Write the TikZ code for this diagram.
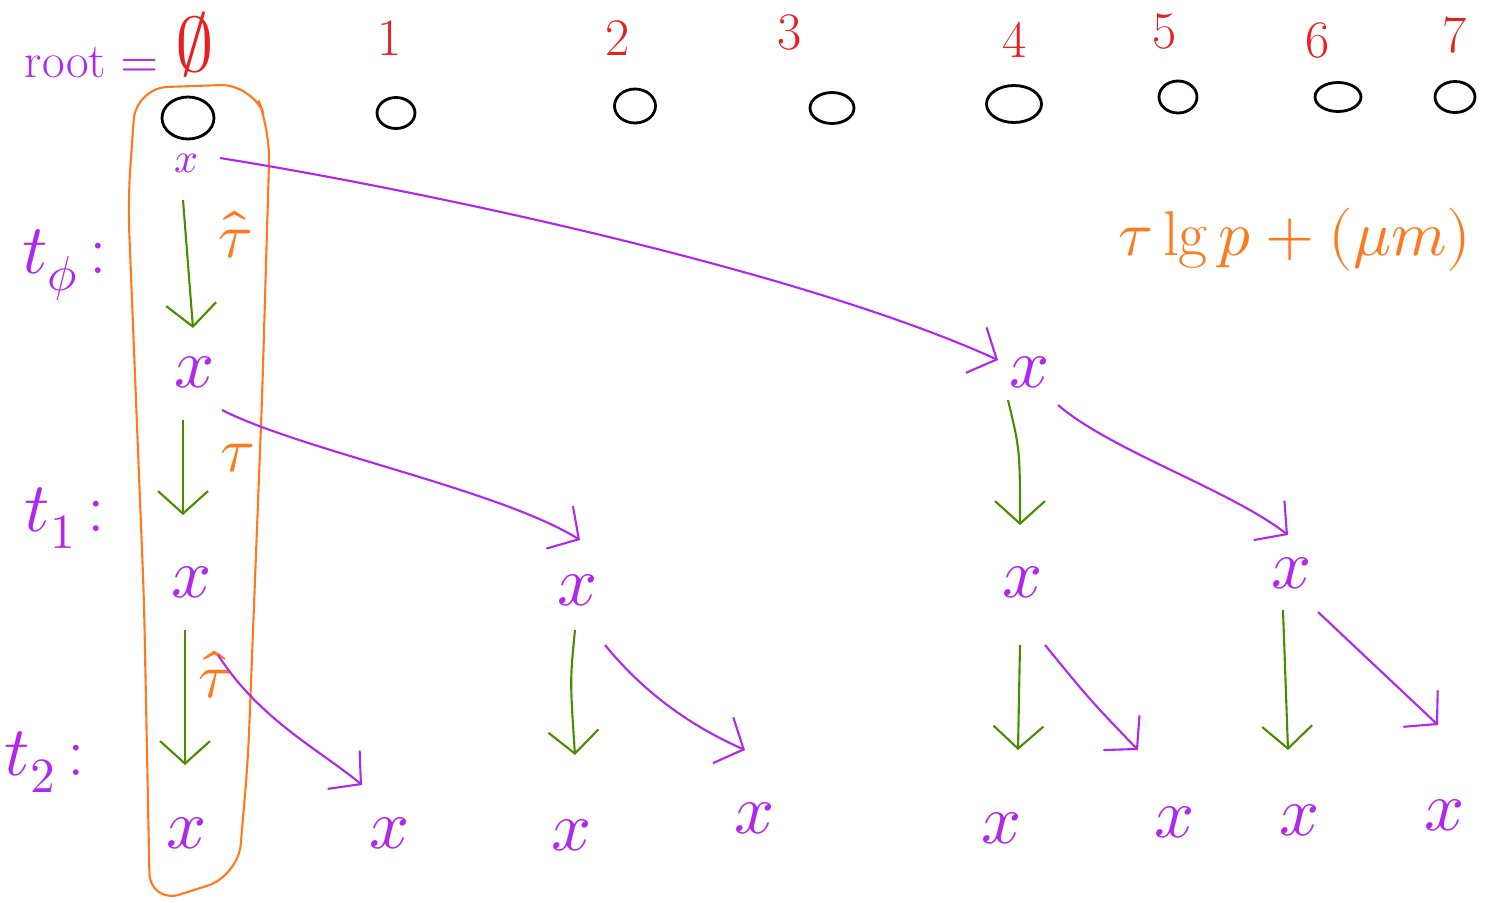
\documentclass[tikz,border=0pt]{standalone}
\usepackage{unicode-math}
\setmathfont{Latin Modern Math}
\usetikzlibrary{arrows.meta,shapes.geometric,calc}
\definecolor{pur}{RGB}{176,40,240}
\definecolor{grn}{RGB}{74,140,0}
\definecolor{org}{RGB}{255,122,30}
\definecolor{rd}{RGB}{232,32,32}
\tikzset{
  xnode/.style={text=pur,inner sep=0pt,font=\fontsize{40}{40}\selectfont},
  smallx/.style={text=pur,inner sep=0pt,font=\fontsize{24}{24}\selectfont},
  num/.style={text=rd,inner sep=0pt,font=\fontsize{30}{30}\selectfont},
  vert/.style={draw=black,line width=1.6pt,ellipse,inner sep=0pt},
  tlab/.style={text=pur,inner sep=0pt,font=\fontsize{40}{40}\selectfont},
  olab/.style={text=org,inner sep=0pt,font=\fontsize{36}{36}\selectfont},
  garr/.style={draw=grn,line width=1.2pt,-{Straight Barb[length=0.45cm,width=1cm]}},
  parr/.style={draw=pur,line width=1.2pt,-{Straight Barb[length=0.45cm,width=1cm]}},
  obox/.style={draw=org,line width=1.2pt,rounded corners=18pt},
}
\begin{document}
\begin{tikzpicture}[x=0.02cm,y=-0.02cm]
\useasboundingbox (0,0) rectangle (1489,903);
% column indices
\node[text=pur,inner sep=0pt,font=\fontsize{28}{28}\selectfont] (root) at (92,63) {root $=$};
\node[num,font=\fontsize{44}{44}\selectfont] (n0) at (195,45) {$\emptyset$};
\node[num] (n1) at (390,38) {1};
\node[num] (n2) at (618,38) {2};
\node[num] (n3) at (790,32) {3};
\node[num] (n4) at (1015,40) {4};
\node[num] (n5) at (1165,32) {5};
\node[num] (n6) at (1318,40) {6};
\node[num] (n7) at (1455,35) {7};
% vertices
\node[vert,minimum width=1.04cm,minimum height=0.84cm] (v0) at (188,118) {};
\node[vert,minimum width=0.76cm,minimum height=0.62cm] (v1) at (396,113) {};
\node[vert,minimum width=0.82cm,minimum height=0.68cm] (v2) at (635,106) {};
\node[vert,minimum width=0.88cm,minimum height=0.62cm] (v3) at (832,108) {};
\node[vert,minimum width=1.1cm,minimum height=0.74cm] (v4) at (1014,104) {};
\node[vert,minimum width=0.76cm,minimum height=0.64cm] (v5) at (1178,97) {};
\node[vert,minimum width=0.92cm,minimum height=0.58cm] (v6) at (1338,97) {};
\node[vert,minimum width=0.8cm,minimum height=0.62cm] (v7) at (1455,97) {};
% orange box
\draw[obox] (136,88) -- (252,84) -- (270,130) -- (262,400) -- (248,760) -- (238,876) -- (150,904) -- (144,600) -- (128,200) -- cycle;
% time labels
\node[tlab] (t0) at (65,265) {$t_{\phi}$\,:};
\node[tlab] (t1) at (65,518) {$t_{1}$\,:};
\node[tlab] (t2) at (45,762) {$t_{2}$\,:};
% x nodes
\node[smallx] (x0) at (187,163) {$x$};
\node[xnode] (xa1) at (195,372) {$x$};
\node[xnode] (xb1) at (1030,372) {$x$};
\node[xnode] (xa2) at (192,582) {$x$};
\node[xnode] (xb2) at (578,590) {$x$};
\node[xnode] (xc2) at (1023,582) {$x$};
\node[xnode] (xd2) at (1292,573) {$x$};
\node[xnode] (xa3) at (187,833) {$x$};
\node[xnode] (xb3) at (390,833) {$x$};
\node[xnode] (xc3) at (572,835) {$x$};
\node[xnode] (xd3) at (755,818) {$x$};
\node[xnode] (xe3) at (1002,828) {$x$};
\node[xnode] (xf3) at (1175,822) {$x$};
\node[xnode] (xg3) at (1300,820) {$x$};
\node[xnode] (xh3) at (1445,815) {$x$};
% orange labels
\node[olab] (l0) at (235,235) {$\hat{\tau}$};
\node[olab] (l1) at (238,458) {$\tau$};
\node[olab] (l2) at (215,675) {$\hat{\tau}$};
\node[olab] (form) at (1295,240) {$\tau\lg p+(\mu m)$};
% green arrows
\draw[garr] ($(x0)+(-4,37)$) -- ($(xa1)+(-2,-44)$);
\draw[garr] ($(xa1)+(-12,48)$) -- ($(xa2)+(-9,-67)$);
\draw[garr] ($(xa2)+(-7,48)$) -- ($(xa3)+(-2,-68)$);
\draw[garr] ($(xb2)+(-3,40)$) .. controls (570,680) .. ($(xc3)+(3,-80)$);
\draw[garr] ($(xb1)+(-22,28)$) .. controls (1020,450) .. ($(xc2)+(-3,-57)$);
\draw[garr] ($(xc2)+(-3,63)$) -- ($(xe3)+(16,-78)$);
\draw[garr] ($(xd2)+(-9,37)$) -- ($(xg3)+(-12,-70)$);
% purple arrows
\draw[parr] ($(x0)+(33,-5)$) .. controls (420,190) and (800,270) .. ($(xb1)+(-32,-12)$);
\draw[parr] ($(xa1)+(27,38)$) .. controls (300,450) and (500,490) .. ($(xb2)+(2,-50)$);
\draw[parr] ($(xa2)+(26,73)$) .. controls (260,720) and (320,750) .. ($(xb3)+(-28,-48)$);
\draw[parr] ($(xb2)+(27,55)$) .. controls (650,700) and (700,730) .. ($(xd3)+(-10,-68)$);
\draw[parr] ($(xb1)+(28,33)$) .. controls (1110,450) and (1230,490) .. ($(xd2)+(-4,-38)$);
\draw[parr] ($(xc2)+(22,63)$) .. controls (1090,700) .. ($(xf3)+(-37,-72)$);
\draw[parr] ($(xd2)+(26,39)$) -- ($(xh3)+(-7,-90)$);
\end{tikzpicture}
\end{document}
